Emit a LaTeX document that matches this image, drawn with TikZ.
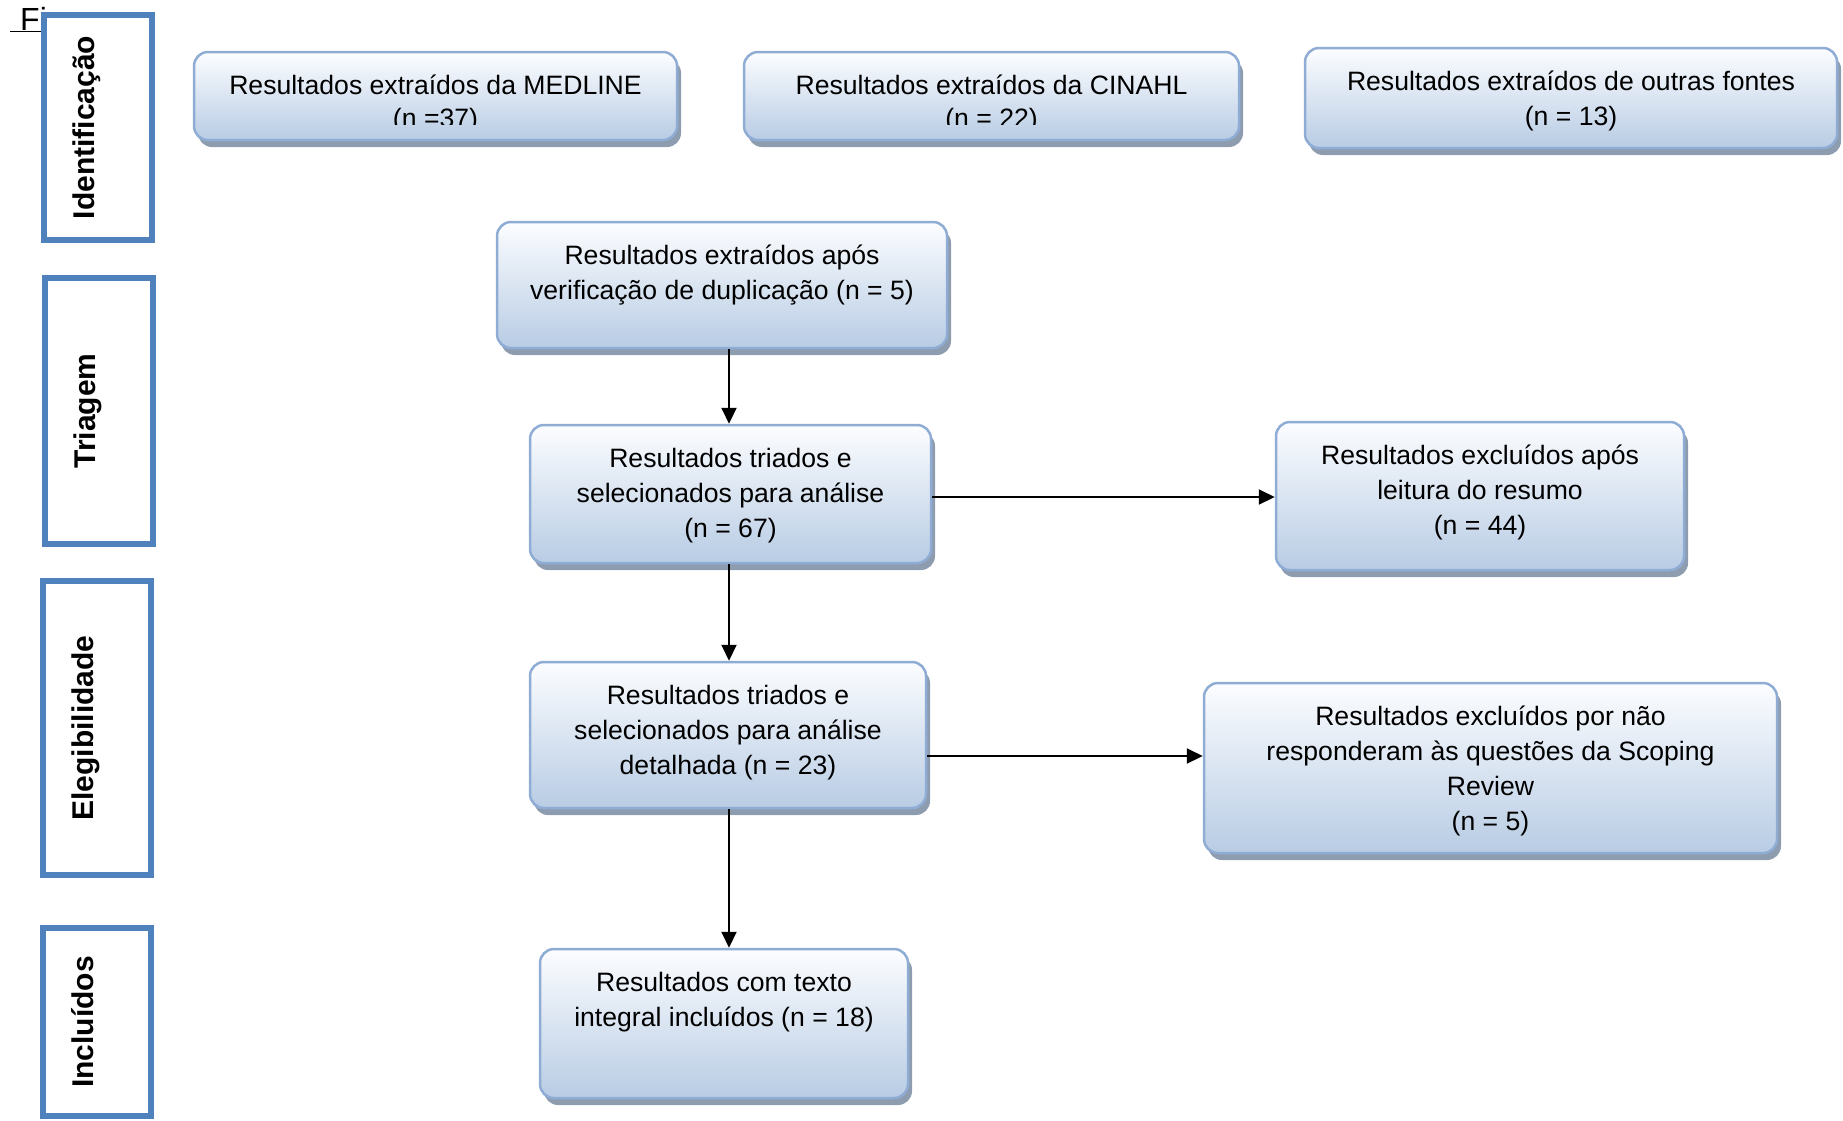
\documentclass[tikz,border=0pt]{standalone}
\usepackage{fontspec}
\setmainfont{Liberation Sans}
\usetikzlibrary{arrows.meta,shadows}
\definecolor{stageblue}{RGB}{79,129,189}
\definecolor{boxedge}{RGB}{143,173,212}
\definecolor{boxtop}{RGB}{252,253,255}
\definecolor{boxfill}{RGB}{184,204,228}
\definecolor{boxshadow}{RGB}{142,156,176}
% text block of a box: width, height, first line pushed down from the top
\newcommand{\boxtext}[4][42pt]{\parbox[c][#3][t]{#2}{\centering\rule{0pt}{#1}#4}}

\begin{document}
\begin{tikzpicture}
  [x=1pt,y=-1pt,
   every node/.style={font=\fontsize{26.6}{35}\selectfont,inner sep=0pt},
   stage/.style={draw=stageblue,fill=white,line width=6pt,rotate=90,
     font=\fontsize{30}{35}\selectfont\bfseries},
   flowbox/.style={draw=boxedge,line width=2.5pt,rounded corners=14pt,
     top color=boxtop,bottom color=boxfill,
     drop shadow={shadow xshift=4pt,shadow yshift=-7pt,fill=boxshadow,opacity=1}},
   arr/.style={line width=2pt,-{Triangle[length=16pt,width=15pt]}}]
  \useasboundingbox (0,0) rectangle (1843,1120);

  \node[anchor=base west,font=\fontsize{32}{38}\selectfont] (fig) at (10,30) {\underline{\hspace{10pt}Fi}};

  % stages
  \node[stage] (ident)  at (98,127.5) {\boxtext[50pt]{225pt}{108pt}{Identificação}};
  \node[stage] (triag)  at (99,411)   {\boxtext[50pt]{266pt}{108pt}{Triagem}};
  \node[stage] (elegib) at (97,728)   {\boxtext[50pt]{294pt}{108pt}{Elegibilidade}};
  \node[stage] (inclu)  at (97,1022)  {\boxtext[50pt]{188pt}{108pt}{Incluídos}};

  % sources
  \node[flowbox] (medline) at (435.5,96) {\boxtext{483pt}{88pt}{Resultados extraídos da MEDLINE}};
  \node[flowbox] (cinahl)  at (991.5,96) {\boxtext{495pt}{88pt}{Resultados extraídos da CINAHL}};
  \node[flowbox] (outras)  at (1571,98)  {\boxtext{532pt}{100pt}{Resultados extraídos de outras fontes\\(n = 13)}};
  \begin{scope}
    \clip (medline.west) rectangle ([yshift=17pt]cinahl.south east);
    \node[anchor=base] (medlinen) at ([yshift=-77pt]medline.north) {(n =37)};
    \node[anchor=base] (cinahln)  at ([yshift=-77pt]cinahl.north)  {(n = 22)};
  \end{scope}

  % flow
  \node[flowbox] (dup)    at (722,285)    {\boxtext{450pt}{126pt}{Resultados extraídos após\\verificação de duplicação (n = 5)}};
  \node[flowbox] (tri67)  at (730.5,494)  {\boxtext{401pt}{138pt}{Resultados triados e\\selecionados para análise\\(n = 67)}};
  \node[flowbox] (exc44)  at (1480,496)   {\boxtext{408pt}{148pt}{Resultados excluídos após\\leitura do resumo\\(n = 44)}};
  \node[flowbox] (tri23)  at (728,735)    {\boxtext{396pt}{146pt}{Resultados triados e\\selecionados para análise\\detalhada (n = 23)}};
  \node[flowbox] (exc5)   at (1490.5,768) {\boxtext{573pt}{170pt}{Resultados excluídos por não\\responderam às questões da Scoping\\Review\\(n = 5)}};
  \node[flowbox] (incl18) at (724,1023.5) {\boxtext{368pt}{149pt}{Resultados com texto\\integral incluídos (n = 18)}};

  \coordinate (axis) at (729,0);
  \foreach \src/\dst in {dup/tri67,tri67/tri23,tri23/incl18}
    \draw[arr] (\src.south -| axis) -- (\dst.north -| axis);
  \draw[arr] ([yshift=-3pt]tri67.east) -- ([yshift=-3pt]tri67.east -| exc44.west);
  \draw[arr] ([yshift=-21pt]tri23.east) -- ([yshift=-21pt]tri23.east -| exc5.west);
\end{tikzpicture}
\end{document}
